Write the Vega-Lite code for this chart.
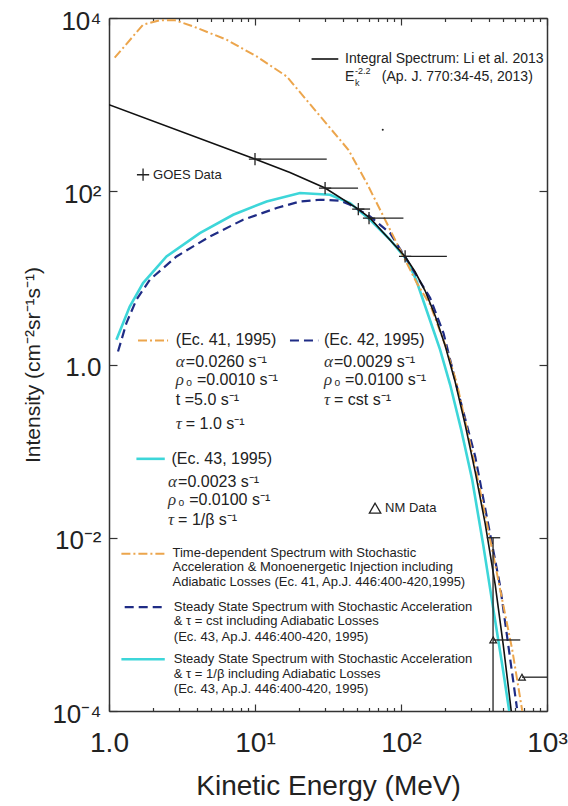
{
  "$schema": "https://vega.github.io/schema/vega-lite/v6.json",
  "width": 438,
  "height": 693,
  "autosize": "none",
  "padding": {"left": 109, "top": 18, "right": 21, "bottom": 95},
  "background": "white",
  "config": {
    "view": {"stroke": null},
    "font": "Liberation Sans",
    "axis": {"grid": false, "domainColor": "#333", "domainWidth": 1.5, "tickColor": "#333", "tickWidth": 1.2, "labelColor": "#222", "titleColor": "#222", "labelFont": "Liberation Sans", "titleFont": "Liberation Sans", "titleFontWeight": "normal", "labelOverlap": false, "labelFlush": false, "zindex": 1}
  },
  "datasets": {
    "black": [
      {"E": 1, "I": 1000, "g": "curve"},
      {"E": 9.98, "I": 235.5, "g": "curve"},
      {"E": 17.36, "I": 164.8, "g": "curve"},
      {"E": 30.2, "I": 108.9, "g": "curve"},
      {"E": 51.0, "I": 62.3, "g": "curve"},
      {"E": 61.4, "I": 49.0, "g": "curve"},
      {"E": 106.7, "I": 17.67, "g": "curve"},
      {"E": 124.9, "I": 11.76, "g": "curve"},
      {"E": 146.3, "I": 7.096, "g": "curve"},
      {"E": 171.4, "I": 3.651, "g": "curve"},
      {"E": 200.7, "I": 1.644, "g": "curve"},
      {"E": 234.9, "I": 0.6313, "g": "curve"},
      {"E": 275.3, "I": 0.2012, "g": "curve"},
      {"E": 322.3, "I": 0.05768, "g": "curve"},
      {"E": 377.5, "I": 0.01447, "g": "curve"},
      {"E": 442.0, "I": 0.002858, "g": "curve"},
      {"E": 501.5, "I": 0.0005799, "g": "curve"},
      {"E": 569.0, "I": 0.0001, "g": "curve"},
      {"E": 24.4, "I": 3363, "g": "key"},
      {"E": 37.2, "I": 3363, "g": "key"}
    ],
    "orange": [
      {"E": 1.094, "I": 3480, "g": "curve"},
      {"E": 1.711, "I": 8369, "g": "curve"},
      {"E": 2.227, "I": 9432, "g": "curve"},
      {"E": 2.822, "I": 9432, "g": "curve"},
      {"E": 3.769, "I": 7998, "g": "curve"},
      {"E": 6.387, "I": 5617, "g": "curve"},
      {"E": 10.26, "I": 3602, "g": "curve"},
      {"E": 16.47, "I": 2117, "g": "curve"},
      {"E": 43.58, "I": 301.5, "g": "curve"},
      {"E": 58.27, "I": 124.4, "g": "curve"},
      {"E": 79.9, "I": 42.94, "g": "curve"},
      {"E": 103.9, "I": 17.67, "g": "curve"},
      {"E": 128.3, "I": 8.71, "g": "curve"},
      {"E": 158.4, "I": 4.891, "g": "curve"},
      {"E": 200.7, "I": 1.688, "g": "curve"},
      {"E": 242.6, "I": 0.5829, "g": "curve"},
      {"E": 322.3, "I": 0.06588, "g": "curve"},
      {"E": 408.4, "I": 0.009458, "g": "curve"},
      {"E": 493.6, "I": 0.001918, "g": "curve"},
      {"E": 578.1, "I": 0.0005077, "g": "curve"},
      {"E": 677.1, "I": 0.0001, "g": "curve"},
      {"E": 1.580, "I": 1.893, "g": "key1"},
      {"E": 2.539, "I": 1.893, "g": "key1"},
      {"E": 1.216, "I": 0.006518, "g": "key2"},
      {"E": 2.410, "I": 0.006518, "g": "key2"}
    ],
    "navy": [
      {"E": 1.153, "I": 1.413, "g": "curve"},
      {"E": 1.316, "I": 3.007, "g": "curve"},
      {"E": 1.541, "I": 5.586, "g": "curve"},
      {"E": 1.902, "I": 9.509, "g": "curve"},
      {"E": 2.900, "I": 17.67, "g": "curve"},
      {"E": 4.906, "I": 30.07, "g": "curve"},
      {"E": 8.298, "I": 46.88, "g": "curve"},
      {"E": 14.07, "I": 63.97, "g": "curve"},
      {"E": 20.32, "I": 76.26, "g": "curve"},
      {"E": 27.87, "I": 79.79, "g": "curve"},
      {"E": 38.22, "I": 77.7, "g": "curve"},
      {"E": 44.76, "I": 69.86, "g": "curve"},
      {"E": 61.4, "I": 51.17, "g": "curve"},
      {"E": 84.2, "I": 32.9, "g": "curve"},
      {"E": 109.6, "I": 16.18, "g": "curve"},
      {"E": 158.4, "I": 5.845, "g": "curve"},
      {"E": 195.4, "I": 2.305, "g": "curve"},
      {"E": 254.3, "I": 0.3912, "g": "curve"},
      {"E": 322.3, "I": 0.08661, "g": "curve"},
      {"E": 478.2, "I": 0.002732, "g": "curve"},
      {"E": 622.6, "I": 0.0001077, "g": "curve"},
      {"E": 17.36, "I": 1.893, "g": "key1"},
      {"E": 27.13, "I": 1.893, "g": "key1"},
      {"E": 1.281, "I": 0.00158, "g": "key2"},
      {"E": 2.346, "I": 0.00158, "g": "key2"}
    ],
    "cyan": [
      {"E": 1.124, "I": 1.928, "g": "curve"},
      {"E": 1.387, "I": 4.674, "g": "curve"},
      {"E": 1.711, "I": 8.71, "g": "curve"},
      {"E": 2.476, "I": 17.67, "g": "curve"},
      {"E": 4.189, "I": 32.9, "g": "curve"},
      {"E": 7.088, "I": 53.54, "g": "curve"},
      {"E": 12.01, "I": 76.26, "g": "curve"},
      {"E": 20.32, "I": 95.3, "g": "curve"},
      {"E": 32.64, "I": 91.1, "g": "curve"},
      {"E": 44.76, "I": 73.07, "g": "curve"},
      {"E": 61.4, "I": 46.88, "g": "curve"},
      {"E": 84.2, "I": 27.54, "g": "curve"},
      {"E": 109.6, "I": 16.18, "g": "curve"},
      {"E": 126.9, "I": 9.509, "g": "curve"},
      {"E": 153.4, "I": 3.749, "g": "curve"},
      {"E": 185.4, "I": 1.478, "g": "curve"},
      {"E": 217.2, "I": 0.5829, "g": "curve"},
      {"E": 258.4, "I": 0.1762, "g": "curve"},
      {"E": 307.4, "I": 0.04662, "g": "curve"},
      {"E": 365.7, "I": 0.008279, "g": "curve"},
      {"E": 435.1, "I": 0.001287, "g": "curve"},
      {"E": 493.6, "I": 0.0003406, "g": "curve"},
      {"E": 551.3, "I": 0.0001, "g": "curve"},
      {"E": 1.541, "I": 0.08149, "g": "key1"},
      {"E": 2.410, "I": 0.08149, "g": "key1"},
      {"E": 1.216, "I": 0.0003964, "g": "key2"},
      {"E": 2.410, "I": 0.0003964, "g": "key2"}
    ],
    "goes": [
      {"E": 10.0, "E2": 31.0, "I": 235.5},
      {"E": 30.2, "E2": 50.8, "I": 108.9},
      {"E": 51.0, "E2": 61.4, "I": 62.3},
      {"E": 60.4, "E2": 103.9, "I": 49.0},
      {"E": 106.7, "E2": 206.2, "I": 17.67}
    ],
    "goesKey": [{"E": 1.711, "I": 155.1}],
    "nm": [
      {"E": 428, "E2": 656, "I": 0.0006607},
      {"E": 674, "E2": 1000, "I": 0.0002457}
    ],
    "nmV": [{"E": 427, "I": 0.0001, "I2": 0.01}],
    "nmCap": [{"E": 387, "E2": 478, "I": 0.01}],
    "nmKey": [{"E": 66.44, "I": 0.02198}],
    "dot": [{"E": 75, "I": 513}],
    "text14": [
      {"E": 41.4, "I": 3363, "label": "Integral Spectrum: Li et al. 2013"},
      {"E": 41.4, "I": 2099, "label": "E"},
      {"E": 73.9, "I": 2099, "label": "(Ap. J. 770:34-45, 2013)"}
    ],
    "text9": [
      {"E": 48.4, "I": 1776, "label": "k"},
      {"E": 48.4, "I": 2464, "label": "-2.2"}
    ],
    "text13": [
      {"E": 2.003, "I": 155.1, "label": "GOES Data"},
      {"E": 77.8, "I": 0.02198, "label": "NM Data"},
      {"E": 2.722, "I": 0.006641, "label": "Time-dependent Spectrum with Stochastic"},
      {"E": 2.722, "I": 0.004575, "label": "Acceleration & Monoenergetic Injection including"},
      {"E": 2.722, "I": 0.003071, "label": "Adiabatic Losses (Ec. 41, Ap.J. 446:400-420,1995)"},
      {"E": 2.779, "I": 0.001605, "label": "Steady State Spectrum with Stochastic Acceleration"},
      {"E": 2.779, "I": 0.001098, "label": "& τ = cst including Adiabatic Losses"},
      {"E": 2.779, "I": 0.0007227, "label": "(Ec. 43, Ap.J. 446:400-420, 1995)"},
      {"E": 2.779, "I": 0.0003964, "label": "Steady State Spectrum with Stochastic Acceleration"},
      {"E": 2.779, "I": 0.0002661, "label": "& τ = 1/β  including Adiabatic Losses"},
      {"E": 2.779, "I": 0.0001785, "label": "(Ec. 43, Ap.J. 446:400-420, 1995)"}
    ],
    "text16": [
      {"E": 2.868, "I": 1.893, "label": "(Ec. 41, 1995)"},
      {"E": 29.69, "I": 1.893, "label": "(Ec. 42, 1995)"},
      {"E": 3.358, "I": 1.083, "label": "=0.0260 s⁻¹"},
      {"E": 3.358, "I": 0.6657, "label": "₀ =0.0010 s⁻¹"},
      {"E": 2.868, "I": 0.3912, "label": "t =5.0 s⁻¹"},
      {"E": 3.358, "I": 0.2066, "label": "= 1.0 s⁻¹"},
      {"E": 34.76, "I": 1.083, "label": "=0.0029 s⁻¹"},
      {"E": 34.76, "I": 0.6657, "label": "₀ =0.0100 s⁻¹"},
      {"E": 34.76, "I": 0.3912, "label": "= cst s⁻¹"},
      {"E": 2.679, "I": 0.08149, "label": "(Ec. 43, 1995)"},
      {"E": 2.973, "I": 0.04457, "label": "=0.0023 s⁻¹"},
      {"E": 2.973, "I": 0.02739, "label": "₀ =0.0100 s⁻¹"},
      {"E": 2.973, "I": 0.01609, "label": "= 1/β s⁻¹"}
    ],
    "greek": [
      {"E": 2.868, "I": 1.083, "label": "α"},
      {"E": 2.868, "I": 0.6657, "label": "ρ"},
      {"E": 2.868, "I": 0.2066, "label": "τ"},
      {"E": 29.69, "I": 1.083, "label": "α"},
      {"E": 29.69, "I": 0.6657, "label": "ρ"},
      {"E": 29.69, "I": 0.3912, "label": "τ"},
      {"E": 2.539, "I": 0.04457, "label": "α"},
      {"E": 2.539, "I": 0.02739, "label": "ρ"},
      {"E": 2.539, "I": 0.01609, "label": "τ"}
    ]
  },
  "resolve": {"axis": {"x": "independent", "y": "independent"}},
  "layer": [
    {
      "data": {"name": "cyan"},
      "mark": {"type": "line", "color": "#3DD6D9", "strokeWidth": 2.6, "clip": true},
      "encoding": {
        "x": {"field": "E", "type": "quantitative", "scale": {"type": "log", "domain": [1, 1000], "nice": false},
          "axis": {"orient": "bottom", "values": [1,2,3,4,5,6,7,8,9,10,20,30,40,50,60,70,80,90,100,200,300,400,500,600,700,800,900,1000],
            "labelExpr": "datum.value==1?'1.0':datum.value==10?'10¹':datum.value==100?'10²':datum.value==1000?'10³':''",
            "tickSize": {"condition": {"test": "datum.value==1||datum.value==10||datum.value==100||datum.value==1000", "value": -7}, "value": -3.5},
            "labelFontSize": 28, "labelPadding": 25, "title": "Kinetic Energy (MeV)", "titleFontSize": 28, "titlePadding": 12}},
        "y": {"field": "I", "type": "quantitative", "scale": {"type": "log", "domain": [0.0001, 10000], "nice": false},
          "axis": {"orient": "left", "values": [0.0001, 0.01, 1, 100, 10000],
            "labelExpr": "datum.value==1?'1.0':datum.value==100?'10²':datum.value==10000?'10⁴':datum.value==0.01?'10⁻²':'10⁻⁴'",
            "tickSize": -8, "labelFontSize": 26, "labelPadding": 16, "labelOffset": 3,
            "title": "Intensity (cm⁻²sr⁻¹s⁻¹)", "titleFontSize": 21, "titlePadding": 8}},
        "detail": {"field": "g"}
      }
    },
    {
      "data": {"name": "navy"},
      "mark": {"type": "line", "color": "#1F2C85", "strokeWidth": 2.2, "strokeDash": [9, 5], "clip": true},
      "encoding": {
        "x": {"field": "E", "type": "quantitative", "scale": {"type": "log", "domain": [1, 1000], "nice": false},
          "axis": {"orient": "top", "values": [1,2,3,4,5,6,7,8,9,10,20,30,40,50,60,70,80,90,100,200,300,400,500,600,700,800,900,1000],
            "labels": false, "title": null,
            "tickSize": {"condition": {"test": "datum.value==1||datum.value==10||datum.value==100||datum.value==1000", "value": -7}, "value": -3.5}}},
        "y": {"field": "I", "type": "quantitative", "scale": {"type": "log", "domain": [0.0001, 10000], "nice": false},
          "axis": {"orient": "right", "values": [0.0001, 0.01, 1, 100, 10000], "labels": false, "title": null, "tickSize": -8}},
        "detail": {"field": "g"}
      }
    },
    {
      "data": {"name": "orange"},
      "mark": {"type": "line", "color": "#ECA54C", "strokeWidth": 2, "strokeDash": [9, 3, 2, 3], "clip": true},
      "encoding": {
        "x": {"field": "E", "type": "quantitative", "scale": {"type": "log", "domain": [1, 1000], "nice": false}, "axis": null},
        "y": {"field": "I", "type": "quantitative", "scale": {"type": "log", "domain": [0.0001, 10000], "nice": false}, "axis": null},
        "detail": {"field": "g"}
      }
    },
    {
      "data": {"name": "black"},
      "mark": {"type": "line", "color": "#111", "strokeWidth": 1.6, "clip": true},
      "encoding": {
        "x": {"field": "E", "type": "quantitative", "scale": {"type": "log", "domain": [1, 1000], "nice": false}, "axis": null},
        "y": {"field": "I", "type": "quantitative", "scale": {"type": "log", "domain": [0.0001, 10000], "nice": false}, "axis": null},
        "detail": {"field": "g"}
      }
    },
    {
      "data": {"name": "goes"},
      "mark": {"type": "rule", "color": "#222", "strokeWidth": 1.3, "clip": true},
      "encoding": {
        "x": {"field": "E", "type": "quantitative", "scale": {"type": "log", "domain": [1, 1000], "nice": false}, "axis": null},
        "x2": {"field": "E2"},
        "y": {"field": "I", "type": "quantitative", "scale": {"type": "log", "domain": [0.0001, 10000], "nice": false}, "axis": null}
      }
    },
    {
      "data": {"name": "goes"},
      "mark": {"type": "point", "shape": "M-1,0L1,0M0,-1L0,1", "filled": false, "color": "#222", "strokeWidth": 1.3, "size": 150, "opacity": 1},
      "encoding": {
        "x": {"field": "E", "type": "quantitative", "scale": {"type": "log", "domain": [1, 1000], "nice": false}, "axis": null},
        "y": {"field": "I", "type": "quantitative", "scale": {"type": "log", "domain": [0.0001, 10000], "nice": false}, "axis": null}
      }
    },
    {
      "data": {"name": "goesKey"},
      "mark": {"type": "point", "shape": "M-1,0L1,0M0,-1L0,1", "filled": false, "color": "#222", "strokeWidth": 1.3, "size": 150, "opacity": 1},
      "encoding": {
        "x": {"field": "E", "type": "quantitative", "scale": {"type": "log", "domain": [1, 1000], "nice": false}, "axis": null},
        "y": {"field": "I", "type": "quantitative", "scale": {"type": "log", "domain": [0.0001, 10000], "nice": false}, "axis": null}
      }
    },
    {
      "data": {"name": "nm"},
      "mark": {"type": "rule", "color": "#222", "strokeWidth": 1.3, "clip": true},
      "encoding": {
        "x": {"field": "E", "type": "quantitative", "scale": {"type": "log", "domain": [1, 1000], "nice": false}, "axis": null},
        "x2": {"field": "E2"},
        "y": {"field": "I", "type": "quantitative", "scale": {"type": "log", "domain": [0.0001, 10000], "nice": false}, "axis": null}
      }
    },
    {
      "data": {"name": "nmCap"},
      "mark": {"type": "rule", "color": "#222", "strokeWidth": 1.3, "clip": true},
      "encoding": {
        "x": {"field": "E", "type": "quantitative", "scale": {"type": "log", "domain": [1, 1000], "nice": false}, "axis": null},
        "x2": {"field": "E2"},
        "y": {"field": "I", "type": "quantitative", "scale": {"type": "log", "domain": [0.0001, 10000], "nice": false}, "axis": null}
      }
    },
    {
      "data": {"name": "nmV"},
      "mark": {"type": "rule", "color": "#222", "strokeWidth": 1.3, "clip": true},
      "encoding": {
        "x": {"field": "E", "type": "quantitative", "scale": {"type": "log", "domain": [1, 1000], "nice": false}, "axis": null},
        "y": {"field": "I", "type": "quantitative", "scale": {"type": "log", "domain": [0.0001, 10000], "nice": false}, "axis": null},
        "y2": {"field": "I2"}
      }
    },
    {
      "data": {"name": "nm"},
      "mark": {"type": "point", "shape": "triangle-up", "filled": false, "color": "#222", "strokeWidth": 1.2, "size": 45, "opacity": 1},
      "encoding": {
        "x": {"field": "E", "type": "quantitative", "scale": {"type": "log", "domain": [1, 1000], "nice": false}, "axis": null},
        "y": {"field": "I", "type": "quantitative", "scale": {"type": "log", "domain": [0.0001, 10000], "nice": false}, "axis": null}
      }
    },
    {
      "data": {"name": "nmKey"},
      "mark": {"type": "point", "shape": "triangle-up", "filled": false, "color": "#222", "strokeWidth": 1.3, "size": 130, "opacity": 1},
      "encoding": {
        "x": {"field": "E", "type": "quantitative", "scale": {"type": "log", "domain": [1, 1000], "nice": false}, "axis": null},
        "y": {"field": "I", "type": "quantitative", "scale": {"type": "log", "domain": [0.0001, 10000], "nice": false}, "axis": null}
      }
    },
    {
      "data": {"name": "dot"},
      "mark": {"type": "point", "filled": true, "color": "#222", "size": 4, "opacity": 1},
      "encoding": {
        "x": {"field": "E", "type": "quantitative", "scale": {"type": "log", "domain": [1, 1000], "nice": false}, "axis": null},
        "y": {"field": "I", "type": "quantitative", "scale": {"type": "log", "domain": [0.0001, 10000], "nice": false}, "axis": null}
      }
    },
    {
      "data": {"name": "text14"},
      "mark": {"type": "text", "align": "left", "baseline": "middle", "fontSize": 14, "color": "#222"},
      "encoding": {
        "x": {"field": "E", "type": "quantitative", "scale": {"type": "log", "domain": [1, 1000], "nice": false}, "axis": null},
        "y": {"field": "I", "type": "quantitative", "scale": {"type": "log", "domain": [0.0001, 10000], "nice": false}, "axis": null},
        "text": {"field": "label"}
      }
    },
    {
      "data": {"name": "text9"},
      "mark": {"type": "text", "align": "left", "baseline": "middle", "fontSize": 9, "color": "#222"},
      "encoding": {
        "x": {"field": "E", "type": "quantitative", "scale": {"type": "log", "domain": [1, 1000], "nice": false}, "axis": null},
        "y": {"field": "I", "type": "quantitative", "scale": {"type": "log", "domain": [0.0001, 10000], "nice": false}, "axis": null},
        "text": {"field": "label"}
      }
    },
    {
      "data": {"name": "text13"},
      "mark": {"type": "text", "align": "left", "baseline": "middle", "fontSize": 13, "color": "#222"},
      "encoding": {
        "x": {"field": "E", "type": "quantitative", "scale": {"type": "log", "domain": [1, 1000], "nice": false}, "axis": null},
        "y": {"field": "I", "type": "quantitative", "scale": {"type": "log", "domain": [0.0001, 10000], "nice": false}, "axis": null},
        "text": {"field": "label"}
      }
    },
    {
      "data": {"name": "text16"},
      "mark": {"type": "text", "align": "left", "baseline": "middle", "fontSize": 16, "color": "#222"},
      "encoding": {
        "x": {"field": "E", "type": "quantitative", "scale": {"type": "log", "domain": [1, 1000], "nice": false}, "axis": null},
        "y": {"field": "I", "type": "quantitative", "scale": {"type": "log", "domain": [0.0001, 10000], "nice": false}, "axis": null},
        "text": {"field": "label"}
      }
    },
    {
      "data": {"name": "greek"},
      "mark": {"type": "text", "align": "left", "baseline": "middle", "fontSize": 17, "font": "Liberation Serif", "fontStyle": "italic", "color": "#333"},
      "encoding": {
        "x": {"field": "E", "type": "quantitative", "scale": {"type": "log", "domain": [1, 1000], "nice": false}, "axis": null},
        "y": {"field": "I", "type": "quantitative", "scale": {"type": "log", "domain": [0.0001, 10000], "nice": false}, "axis": null},
        "text": {"field": "label"}
      }
    }
  ]
}
